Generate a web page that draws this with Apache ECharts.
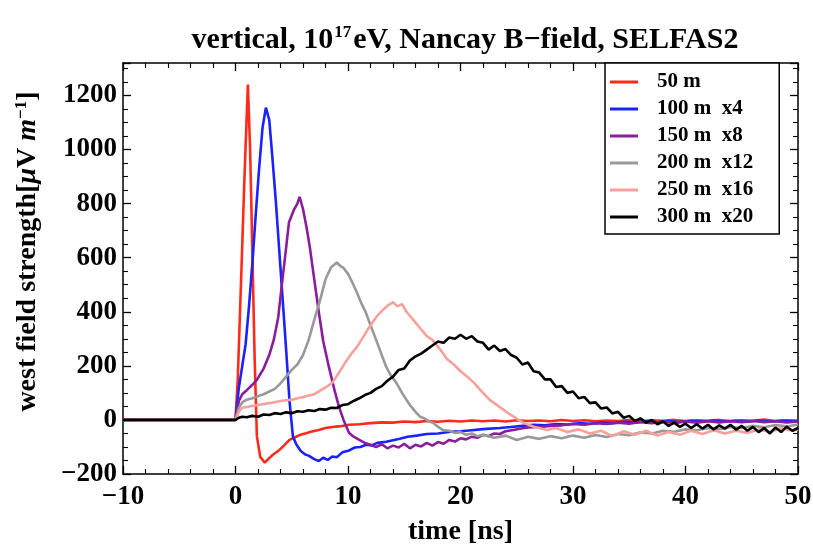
<!DOCTYPE html>
<html>
<head>
<meta charset="utf-8">
<script src="https://cdn.jsdelivr.net/npm/echarts@6/dist/echarts.min.js"></script>
<style>
  html, body { margin: 0; padding: 0; background: #fff; }
  #chart { width: 813px; height: 546px; }
</style>
</head>
<body>
<div id="chart"></div>
<script>
// legend labels
var seriesNames = ["50 m", "100 m  x4", "150 m  x8", "200 m  x12", "250 m  x16", "300 m  x20"];
var seriesColors = ["#ff2a1a", "#1a22ff", "#8a1e9a", "#999999", "#f7a09c", "#000000"];

// [time ns, field uV/m]
var red50 = [[-10,0],[0,0],[0.2,150],[0.5,520],[0.8,900],[1.1,1240],[1.3,1000],[1.5,620],[1.7,230],[1.9,-60],[2.2,-137],[2.6,-158],[2.9,-145],[3.3,-130],[3.9,-111],[4.3,-95],[4.8,-74],[5.2,-66],[5.7,-56],[6.2,-50],[6.7,-44],[7.4,-37],[8,-30],[8.6,-26],[9.2,-24],[10.1,-18],[11,-16],[12,-12],[13,-9],[14,-10],[15,-6],[16,-8],[17,-4],[18,-7],[19,-3],[20,-6],[21,-2],[22,-5],[23,-2],[24,-6],[25,-1],[26,-4],[27,-2],[28,-5],[29,0],[30,-4],[31,-1],[32,-5],[33,-2],[34,-4],[35,0],[36,-5],[37,-1],[38,-3],[39,0],[40,-4],[41,-1],[42,-3],[43,0],[44,-4],[45,-1],[46,-3],[47,1],[48,-4],[49,-1],[50,-3]];
var blue100 = [[-10,0],[0,0],[0.3,120],[0.6,200],[0.9,280],[1.2,420],[1.5,580],[1.8,760],[2.1,930],[2.4,1080],[2.7,1155],[3.0,1110],[3.3,960],[3.6,800],[3.9,620],[4.2,440],[4.5,260],[4.8,70],[5.1,-60],[5.4,-90],[5.8,-115],[6.2,-128],[6.5,-132],[7,-145],[7.4,-152],[7.8,-140],[8.2,-148],[8.6,-135],[9,-138],[9.5,-120],[10.1,-113],[10.6,-102],[11.1,-100],[11.6,-92],[12.1,-94],[12.6,-85],[13.4,-81],[14,-75],[14.6,-70],[15.3,-62],[16.1,-58],[17,-52],[18,-50],[19.1,-44],[20,-42],[21,-38],[22,-34],[23.5,-30],[24.5,-26],[25.5,-22],[26.5,-18],[27.5,-20],[28.5,-15],[29.5,-17],[30.5,-12],[31.5,-14],[32.5,-10],[33.5,-12],[34.5,-7],[35.5,-10],[36.5,-5],[37.5,-9],[38.5,-4],[39.5,-8],[40.5,-3],[41.5,-7],[42.5,-2],[43.5,-6],[44.5,-3],[45.5,-7],[46.5,-2],[47.5,-6],[48.5,-3],[49.5,-5],[50,-4]];
var purple150 = [[-10,0],[0,0],[0.3,70],[0.6,95],[1,110],[1.5,130],[1.9,148],[2.5,190],[3,240],[3.4,296],[3.8,380],[4.1,493],[4.4,600],[4.75,730],[5.2,778],[5.5,800],[5.7,825],[6,780],[6.3,715],[6.6,641],[7,520],[7.4,400],[7.8,290],[8.3,196],[8.8,110],[9.2,48],[9.6,0],[10.1,-48],[10.5,-62],[11,-74],[11.5,-85],[12,-92],[12.5,-100],[13,-90],[13.5,-105],[14,-95],[14.5,-102],[15,-88],[15.5,-105],[16,-92],[16.5,-98],[17,-85],[17.5,-95],[18,-82],[18.5,-88],[19,-74],[19.5,-80],[20,-68],[20.5,-72],[21,-62],[21.5,-66],[22,-55],[22.5,-60],[23,-50],[23.5,-52],[24,-42],[24.7,-37],[25.4,-32],[26,-28],[27.1,-26],[28,-22],[29,-20],[30,-15],[31,-18],[32,-12],[33,-15],[34,-10],[35,-14],[36,-8],[37,-12],[38,-7],[39,-11],[40,-6],[41,-10],[42,-5],[43,-9],[44,-5],[45,-8],[46,-4],[47,-8],[48,-5],[49,-9],[50,-6]];
var gray200 = [[-10,0],[0,0],[0.3,45],[0.6,65],[1,75],[1.5,80],[2,88],[2.5,95],[3,105],[3.5,115],[4,135],[4.5,160],[5,185],[5.5,205],[6,240],[6.5,295],[7,370],[7.5,440],[8,520],[8.5,565],[9,582],[9.3,570],[9.6,562],[10,540],[10.4,507],[10.8,470],[11.2,430],[11.6,396],[12,350],[12.5,296],[13,240],[13.4,196],[13.8,165],[14.3,137],[14.8,100],[15.2,74],[15.6,50],[16,30],[16.4,12],[16.8,5],[17.2,-5],[17.6,-12],[18,-25],[18.4,-37],[19,-40],[19.5,-48],[20,-45],[20.5,-55],[21,-50],[21.5,-60],[22,-55],[23,-66],[24,-58],[25,-74],[26,-62],[27,-70],[28,-60],[29,-68],[30,-58],[31,-66],[32,-56],[33,-63],[34,-52],[35,-57],[36,-46],[37,-50],[38,-40],[39,-44],[40,-35],[41,-38],[42,-30],[43,-34],[44,-26],[45,-30],[46,-22],[47,-27],[48,-19],[49,-24],[50,-17]];
var pink250 = [[-10,0],[0,0],[0.3,30],[0.6,45],[1,48],[2,55],[3,62],[4,70],[5,75],[6,85],[7,95],[8,120],[8.6,137],[9.2,175],[9.8,215],[10.4,250],[10.8,270],[11.4,310],[11.9,344],[12.5,380],[13.1,407],[13.6,425],[14,435],[14.4,420],[14.8,428],[15.2,400],[15.8,370],[16.4,340],[17,310],[17.5,296],[18.2,260],[18.8,225],[19.4,205],[20,180],[20.6,160],[21.2,137],[21.9,105],[22.6,74],[23.4,50],[24.2,26],[25,5],[25.6,-11],[26.5,-25],[27.7,-37],[28.5,-30],[29.5,-45],[30.5,-35],[31.5,-50],[32.5,-40],[33.5,-60],[34.5,-42],[35.5,-55],[36.5,-40],[37.5,-58],[38.5,-45],[39.5,-55],[40.5,-40],[41.5,-52],[42.5,-38],[43.5,-50],[44.5,-40],[45.5,-48],[46.5,-35],[47.5,-45],[48.5,-30],[49.5,-40],[50,-35]];
var black300 = [[-10,0],[0,0],[0.3,8],[0.6,12],[1,10],[1.5,15],[2,12],[2.5,20],[3,18],[3.5,25],[4,22],[4.5,28],[5,25],[5.5,32],[6,30],[6.5,36],[7,33],[7.5,40],[8,38],[8.5,45],[9,44],[9.5,55],[10,58],[10.5,70],[11,80],[11.5,92],[12,100],[12.5,115],[13,125],[13.5,145],[14,160],[14.5,185],[15,190],[15.5,220],[16,235],[16.5,245],[17,260],[17.5,275],[18,290],[18.5,285],[19,305],[19.5,300],[20,315],[20.5,300],[21,310],[21.5,290],[22,285],[22.5,260],[23,275],[23.5,255],[24,262],[24.5,240],[25,230],[25.5,205],[26,212],[26.5,180],[27,175],[27.5,150],[28,150],[28.5,122],[29,125],[29.5,100],[30,105],[30.5,80],[31,85],[31.5,62],[32,65],[32.5,42],[33,46],[33.5,24],[34,30],[34.5,8],[35,15],[35.5,-4],[36,6],[36.5,-10],[37,0],[37.5,-16],[38,-6],[38.5,-22],[39,-10],[39.5,-26],[40,-14],[40.5,-30],[41,-16],[41.5,-32],[42,-18],[42.5,-35],[43,-20],[43.5,-32],[44,-18],[44.5,-36],[45,-22],[45.5,-40],[46,-26],[46.5,-45],[47,-30],[47.5,-50],[48,-28],[48.5,-45],[49,-25],[49.5,-40],[50,-30]];

var allData = [red50, blue100, purple150, gray200, pink250, black300];

var font = "Liberation Serif";
var chart = echarts.init(document.getElementById("chart"));

var series = [];
for (var i = 0; i < allData.length; i++) {
    series.push({
        name: seriesNames[i],
        type: "line",
        data: allData[i],
        showSymbol: false,
        color: seriesColors[i],
        lineStyle: { width: 2.6, color: seriesColors[i] },
        animation: false
    });
}

function minus(v) { return String(v).replace("-", "\u2212"); }

var tickStyle = { inside: true, length: 8, lineStyle: { color: "#000", width: 1.3 } };
var minorLine = { color: "#000", width: 1.1 };

chart.setOption({
    backgroundColor: "#fff",
    animation: false,
    title: {
        text: "{a|vertical, 10}{s|17}{a|eV, Nancay B\u2212field, SELFAS2}",
        left: 460,
        top: 19,
        textAlign: "center",
        textStyle: {
            rich: {
                a: { fontFamily: font, fontWeight: "bold", fontSize: 30, color: "#000", lineHeight: 32 },
                s: { fontFamily: font, fontWeight: "bold", fontSize: 17, color: "#000", verticalAlign: "top", lineHeight: 32, padding: [0, 2, 14, 1] }
            }
        }
    },
    legend: {
        data: seriesNames,
        left: 605,
        top: 63,
        orient: "vertical",
        backgroundColor: "#fff",
        borderColor: "#000",
        borderWidth: 1.5,
        borderRadius: 0,
        padding: [8, 26, 6, 5],
        itemGap: 5,
        itemWidth: 28,
        itemHeight: 3,
        icon: "rect",
        textStyle: { fontFamily: font, fontWeight: "bold", fontSize: 21, color: "#000", lineHeight: 22, padding: [0, 0, 0, 14] }
    },
    grid: { left: 123, right: 15, top: 63, bottom: 72, outerBoundsMode: "none", containLabel: false },
    xAxis: [{
        type: "value", min: -10, max: 50, interval: 10,
        name: "time [ns]", nameLocation: "middle", nameGap: 44,
        nameTextStyle: { fontFamily: font, fontWeight: "bold", fontSize: 28, color: "#000" },
        axisLine: { onZero: false, lineStyle: { color: "#000", width: 1.5 } },
        axisTick: tickStyle,
        minorTick: { show: true, splitNumber: 5, length: 5, lineStyle: minorLine },
        splitLine: { show: false },
        axisLabel: { fontFamily: font, fontWeight: "bold", fontSize: 27, color: "#000", margin: 10, formatter: minus }
    }, {
        type: "value", min: -10, max: 50, interval: 10, position: "top",
        axisLine: { onZero: false, lineStyle: { color: "#000", width: 1.5 } },
        axisTick: tickStyle,
        minorTick: { show: true, splitNumber: 5, length: 5, lineStyle: minorLine },
        splitLine: { show: false },
        axisLabel: { show: false }
    }],
    yAxis: [{
        type: "value", min: -200, max: 1320, interval: 200,
        name: "{b|west field strength[}{i|\u03bc}{b|V }{i|m}{p|\u22121}{b|]}",
        nameLocation: "middle", nameGap: 80, nameRotate: 90,
        nameTextStyle: {
            padding: [0, 0, 0, 34],
            rich: {
                b: { fontFamily: font, fontWeight: "bold", fontSize: 28, color: "#000", lineHeight: 30 },
                i: { fontFamily: font, fontWeight: "bold", fontStyle: "italic", fontSize: 28, color: "#000", lineHeight: 30 },
                p: { fontFamily: font, fontWeight: "bold", fontSize: 17, color: "#000", verticalAlign: "top", lineHeight: 30, padding: [0, 0, 12, 0] }
            }
        },
        axisLine: { onZero: false, lineStyle: { color: "#000", width: 1.5 } },
        axisTick: tickStyle,
        minorTick: { show: true, splitNumber: 4, length: 5, lineStyle: minorLine },
        splitLine: { show: false },
        axisLabel: { fontFamily: font, fontWeight: "bold", fontSize: 27, color: "#000", margin: 6, showMaxLabel: false, formatter: minus }
    }, {
        type: "value", min: -200, max: 1320, interval: 200, position: "right",
        axisLine: { onZero: false, lineStyle: { color: "#000", width: 1.5 } },
        axisTick: tickStyle,
        minorTick: { show: true, splitNumber: 4, length: 5, lineStyle: minorLine },
        splitLine: { show: false },
        axisLabel: { show: false }
    }],
    series: series
});
</script>
</body>
</html>
